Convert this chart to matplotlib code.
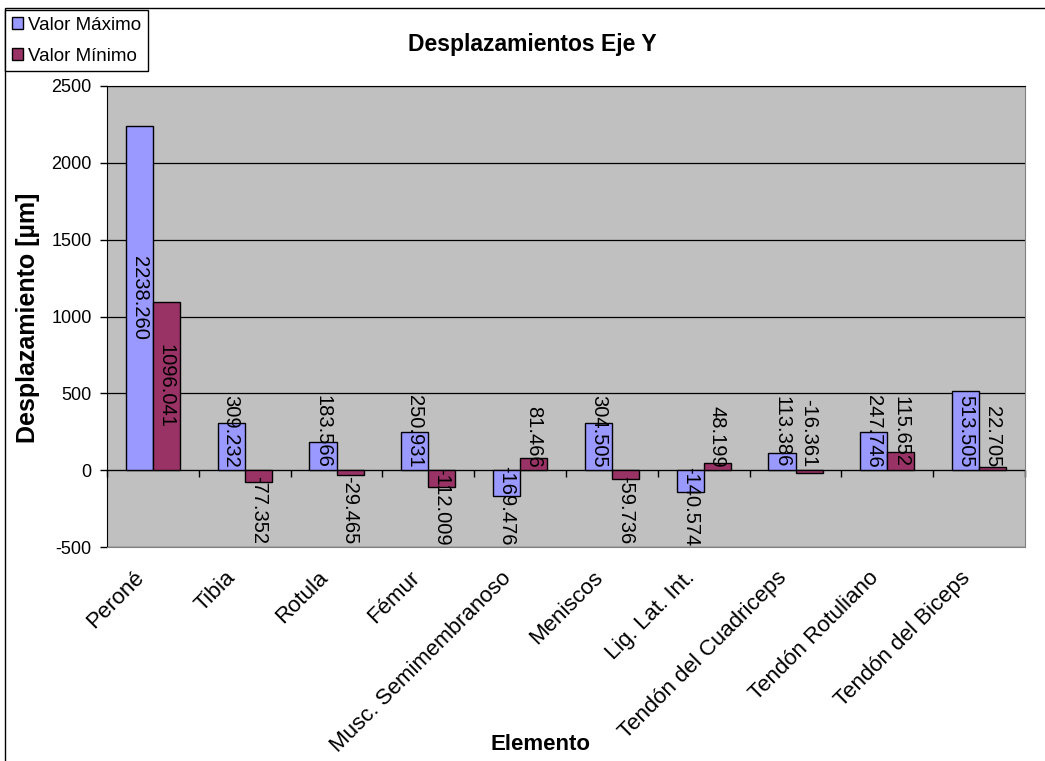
import matplotlib
matplotlib.use('Agg')
import matplotlib.pyplot as plt
from matplotlib.patches import Rectangle, Patch
from matplotlib.transforms import ScaledTranslation
import numpy as np

plt.rcParams['font.family'] = ['Liberation Sans', 'DejaVu Sans']
plt.rcParams['axes.unicode_minus'] = False

elementos = ['Peroné', 'Tibia', 'Rotula', 'Fémur', 'Musc. Semimembranoso',
             'Meniscos', 'Lig. Lat. Int.', 'Tendón del Cuadriceps',
             'Tendón Rotuliano', 'Tendón del Biceps']
valor_max = [2238.260, 309.232, 183.566, 250.931, -169.476,
             304.505, -140.574, 113.386, 247.746, 513.505]
valor_min = [1096.041, -77.352, -29.465, -112.009, 81.466,
             -59.736, 48.199, -16.361, 115.652, 22.705]
yticks = [-500, 0, 500, 1000, 1500, 2000, 2500]

c_max = '#9999FF'
c_min = '#993366'

W, H = 1045, 761
fig = plt.figure(figsize=(W / 100, H / 100), dpi=100)
ax = fig.add_axes([107 / W, 1 - 547 / H, (1025 - 107) / W, (547 - 86) / H])
ax.set_facecolor('#C0C0C0')

x = np.arange(len(elementos))
bw = 0.295
ax.bar(x - bw / 2, valor_max, bw, color=c_max, edgecolor='black', lw=1, zorder=3)
ax.bar(x + bw / 2, valor_min, bw, color=c_min, edgecolor='black', lw=1, zorder=3)

ax.set_xlim(-0.5, len(elementos) - 0.5)
ax.set_ylim(yticks[0], yticks[-1])
ax.set_yticks(yticks)
ax.yaxis.grid(True, color='black', lw=0.9)
ax.set_axisbelow(True)
ax.tick_params(axis='y', labelsize=13, length=5, width=1, direction='out', pad=6)

ax.set_xticks(x)
ax.set_xticklabels(elementos, rotation=45, ha='right', va='center',
                   rotation_mode='anchor', fontsize=16)
ax.tick_params(axis='x', length=0, pad=20)
shift = ScaledTranslation(-12 / 100, 0, fig.dpi_scale_trans)
for lab in ax.get_xticklabels():
    lab.set_transform(lab.get_transform() + shift)

for s in ['top', 'right', 'bottom']:
    ax.spines[s].set_color('#808080')
ax.spines['top'].set_color('black')
ax.spines['left'].set_color('black')

# category axis crossing at zero
zero_pos = (0 - yticks[0]) / (yticks[-1] - yticks[0])
sec = ax.secondary_xaxis(zero_pos)
sec.set_xticks(np.arange(-0.5, len(elementos)))
sec.tick_params(axis='x', length=5, width=1, direction='out', labelbottom=False,
                labeltop=False, bottom=True, top=False)
sec.spines['bottom'].set_color('black')

# data labels
labels = []
for xs, vals in [(x - bw / 2, valor_max), (x + bw / 2, valor_min)]:
    for xi, v in zip(xs, vals):
        txt = f'{v:.3f}'
        if abs(v) > 700:
            t = ax.annotate(txt, (xi, v / 2), rotation=270, rotation_mode='anchor',
                            ha='center', va='center', fontsize=14.5, zorder=4)
        elif v > -20:
            t = ax.annotate(txt, (xi, 0), xytext=(0, 2), textcoords='offset points',
                            rotation=270, rotation_mode='anchor',
                            ha='right', va='center', fontsize=14.5, zorder=4)
        else:
            t = ax.annotate(txt, (xi, 0), xytext=(0, -4), textcoords='offset points',
                            rotation=270, rotation_mode='anchor',
                            ha='left', va='center', fontsize=14.5, zorder=4)
        labels.append(t)

# keep labels inside the plot area
fig.canvas.draw()
r = fig.canvas.get_renderer()
for t in labels:
    bb = t.get_window_extent(r)
    if bb.y0 < ax.bbox.y0:
        dx, dy = t.xyann
        t.xyann = (dx, dy + (ax.bbox.y0 - bb.y0 + 1) * 72 / fig.dpi)

fig.text(532 / W, 1 - 45 / H, 'Desplazamientos Eje Y', ha='center', va='center',
         fontsize=16.5, fontweight='bold')
fig.text(28 / W, 1 - 318 / H, 'Desplazamiento [µm]', ha='center', va='center',
         rotation=90, fontsize=18, fontweight='bold')
fig.text(541 / W, 1 - 745 / H, 'Elemento', ha='center', va='center',
         fontsize=16, fontweight='bold')

handles = [Patch(facecolor=c_max, edgecolor='black'), Patch(facecolor=c_min, edgecolor='black')]
leg = fig.legend(handles, ['Valor Máximo', 'Valor Mínimo'], loc='upper left',
                 bbox_to_anchor=(5 / W, 1 - 10 / H), fontsize=13.5, fancybox=False,
                 edgecolor='black', framealpha=1, borderpad=0.35, labelspacing=0.75,
                 handlelength=0.6, handleheight=0.6, handletextpad=0.3, borderaxespad=0)
leg.get_frame().set_linewidth(1)

fig.add_artist(Rectangle((5 / W, -0.05), 1.2, 1.05 - 8 / H, transform=fig.transFigure,
                         fill=False, edgecolor='black', lw=1))

fig.savefig('out.png', dpi=100)
